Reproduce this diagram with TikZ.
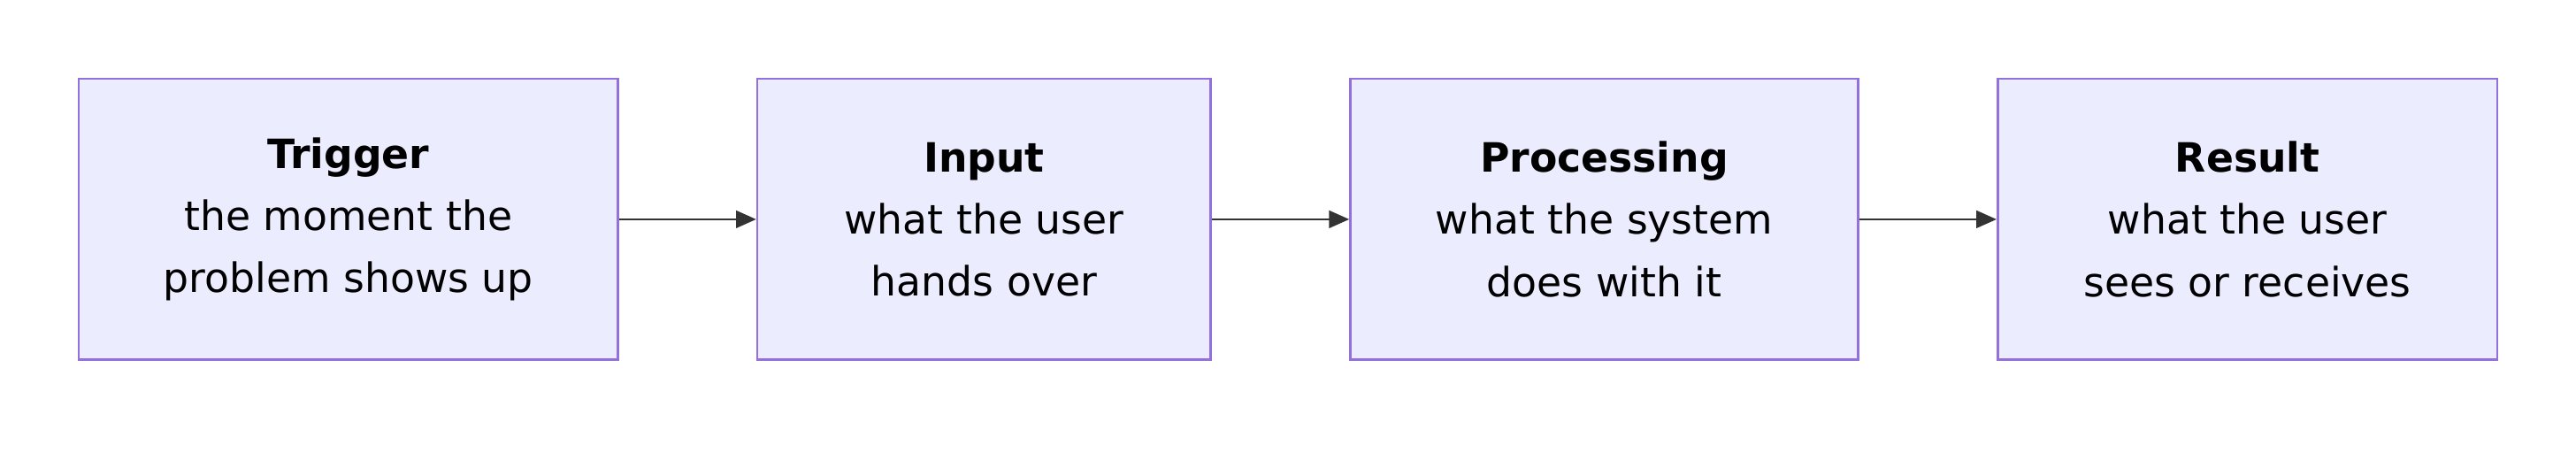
\documentclass[tikz,border=0pt]{standalone}
\usepackage{fontspec}
\setmainfont{DejaVu Sans}
\usetikzlibrary{arrows.meta}
\definecolor{boxfill}{HTML}{ECECFF}
\definecolor{boxline}{HTML}{9370DB}
\definecolor{arr}{HTML}{333333}
\begin{document}
\begin{tikzpicture}[x=0.02cm,y=-0.02cm,
  box/.style={draw=boxline,fill=boxfill,line width=0.8pt,align=center,font=\fontsize{14}{21.5}\selectfont,inner sep=0pt,minimum height=171*0.02cm},
  link/.style={draw=arr,line width=0.8pt,-{Triangle[length=7pt,width=6pt]}}]
\useasboundingbox (0,0) rectangle (1568,280);
\node[box,minimum width=328*0.02cm] (a) at (212,133.5) {\textbf{Trigger}\\the moment the\\problem shows up};
\node[box,minimum width=276*0.02cm] (b) at (599,133.5) {\textbf{Input}\\what the user\\hands over};
\node[box,minimum width=309*0.02cm] (c) at (976.5,133.5) {\textbf{Processing}\\what the system\\does with it};
\node[box,minimum width=304*0.02cm] (d) at (1368,133.5) {\textbf{Result}\\what the user\\sees or receives};
\draw[link] (a) -- (b);
\draw[link] (b) -- (c);
\draw[link] (c) -- (d);
\end{tikzpicture}
\end{document}
